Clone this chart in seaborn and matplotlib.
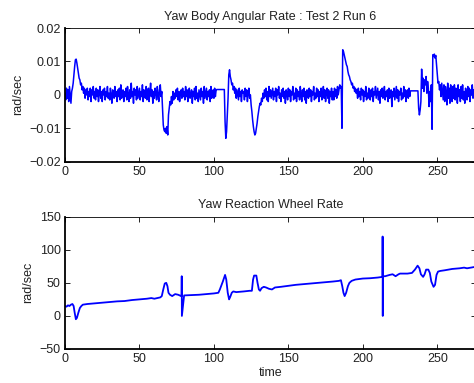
import numpy as np
import matplotlib
matplotlib.use('Agg')
import matplotlib.pyplot as plt
import seaborn as sns

# body rate samples, units of 1e-4 rad/sec, one every 0.5 s from t=0
dt_top = 0.5
body_rate = [
    5, -15, 20, -10, 15, -20, 25, 0, -25, 10, 20, 35, 60, 85, 105, 107, 95, 80, 65, 50,
    45, 30, 35, 15, 25, 5, 20, -10, 15, 0, 20, -15, 10, -5, 20, -20, 15, 0, 25, -10,
    10, -15, 20, -5, 15, -20, 5, 25, -10, 10, -20, 15, 0, 20, -15, 10, -5, 25, -10, 5,
    -15, 20, 0, -25, 15, 5, -10, 25, -5, 10, -20, 15, -5, 20, -15, 30, -10, 5, 15, -20,
    10, -5, 20, -15, 25, 0, -20, 15, -10, 35, -5, 10, -25, 20, 0, 15, -15, 25, -10, 5,
    20, -15, 10, -5, 30, -20, 15, 0, -10, 25, -15, 5, 20, -20, 10, 35, -5, 15, -25, 10,
    -10, 20, 5, -15, 25, 0, -20, 15, 30, -5, 10, -40, -90, -105, -110, -100, -115, -95, -120, -60,
    -40, -20, -30, -5, -25, 10, -15, 5, -10, 15, -5, 20, -15, 10, -20, 5, 15, -10, 20, -5,
    10, -15, 25, -5, 15, -20, 5, 20, -10, 0, 15, -25, 10, -5, 20, -15, 25, -10, 5, -20,
    15, 0, -15, 20, -5, 10, -25, 25, -10, 5, 20, -15, 10, -5, 15, -20, 25, -10, 0, 15,
    -10, 20, -5, 15, 16, 16, 16, 16, 16, 16, 16, 16, 16, 16, 16, -80, -130, -110, -60, -10,
    60, 75, 55, 45, 30, 35, 15, 25, 5, 20, -10, 15, 0, -15, 20, -5, 10, -20, 15, 5,
    10, -15, 20, -5, 15, -20, 5, 20, -10, 0, -30, -50, -75, -95, -110, -120, -115, -100, -85, -65,
    -50, -35, -25, -30, -10, -20, 5, -10, 15, -5, 20, -15, 10, -20, 25, -5, 15, -10, 5, 20,
    -15, 10, -5, 20, -20, 15, 0, 25, -10, 5, -20, 15, -5, 20, -10, 10, -25, 15, 5, -15,
    20, -5, 15, -20, 10, 0, 25, -15, 5, -10, 20, -20, 15, -5, 10, -15, 25, 0, -20, 15,
    -5, 20, -15, 10, -25, 15, 5, -10, 20, -5, 15, -20, 10, 0, 25, -15, 5, -10, 20, -5,
    15, -20, 10, -5, 20, -15, 0, 25, -10, 15, -20, 5, 20, -10, 15, -25, 10, -5, 20, -15,
    10, -15, 20, -5, 15, -10, 25, 0, 15, 30, 20, 25, -100, 135, 130, 120, 110, 100, 90, 85,
    70, 60, 55, 45, 40, 30, 35, 20, 25, 10, 20, 5, 15, -10, 20, -5, 10, -15, 20, 0,
    15, -20, 10, -5, 25, -15, 5, -10, 20, 0, -15, 15, -5, 20, -20, 10, 0, 25, -10, 5,
    20, -15, 10, -25, 15, -5, 20, -10, 5, 25, -15, 10, -5, 15, -20, 20, -10, 5, 15, -35,
    10, -5, 20, -15, 5, 25, -10, 15, -20, 10, 0, 20, -15, 5, -10, 25, -5, 15, -20, 10,
    15, -10, 20, -5, 12, 12, 12, 12, 12, 12, 12, 12, 12, 12, 12, -40, -60, -45, -20, 77,
    20, 50, 10, 45, 30, 55, 5, 40, 20, -35, 10, -20, 30, -103, 120, 115, 122, 110, 118, 90,
    60, 35, 40, 15, 30, -5, 35, 10, -15, 30, -20, 25, 5, -30, 35, -10, 20, -25, 30, 0,
    -20, 25, -10, 30, -15, 20, 5, -25, 30, -5, 15, -20, 25, -10, 30, -15, 10, -25, 20, 5,
    -15, 25, -5, 20, -20, 15, 0, 30, -10, 15, -5, 20,
]

# reaction wheel rate (rad/sec) read at turning points
wheel_time = [0, 1, 2, 3, 4, 5, 5.8, 6.5, 7.3, 8, 9, 10, 11, 12, 15, 20, 25, 30, 35, 40,
              45, 50, 55, 58, 60, 62, 64, 65, 66, 67, 68, 68.8, 69.5, 70.5, 72, 74, 76, 78,
              78.3, 78.4, 78.5, 80, 85, 90, 95, 100, 103, 104, 106, 107.5, 108.3, 109.3,
              110.2, 111, 112, 113, 115, 120, 124, 125.5, 126.3, 127, 128.5, 129.3, 130.2,
              131, 132, 133.5, 135, 137, 139, 141, 145, 150, 155, 160, 165, 170, 175, 180,
              184, 185.3, 186.2, 187, 187.8, 188.8, 190, 191, 192.5, 195, 200, 205, 210,
              213.2, 213.3, 213.4, 213.5, 215, 218, 220, 222, 224, 225, 230, 233, 235, 236.8,
              238, 239, 240.5, 241.5, 242.5, 244, 245, 246, 247.5, 248.5, 249.5, 250.5, 252,
              255, 260, 265, 268, 270, 275, 276]
wheel_rate = [15, 14, 16, 15, 17, 18, 15, 5, -5, -3, 5, 12, 15, 17, 18, 19, 20, 21, 22, 22.5,
              24, 25, 26, 27, 26, 27, 28, 30, 40, 49, 50, 45, 35, 32, 30, 33, 32, 30,
              30, 60, 0, 31, 31.5, 32, 33, 34, 35, 40, 52, 62, 55, 35,
              25, 29, 35, 37, 36, 37, 38, 38, 55, 61, 61, 50, 40,
              38, 42, 44, 43, 41, 40, 43, 44, 45.5, 47, 48, 49, 50, 51, 52,
              53, 54, 45, 35, 30, 35, 45, 50, 53, 55, 56.5, 57, 58,
              59, 120, 0, 60, 60, 62, 63, 60, 63, 64, 64, 65, 70, 76,
              72, 63, 59, 63, 70, 70, 65, 52, 44, 47, 62, 67, 68,
              69, 71, 72, 73, 72, 74, 74]

t_top = np.arange(0, len(body_rate)) * dt_top

sns.set_theme(style='ticks')
plt.rcParams['font.family'] = ['Liberation Sans', 'DejaVu Sans']
plt.rcParams['font.size'] = 9
plt.rcParams['xtick.direction'] = 'in'
plt.rcParams['ytick.direction'] = 'in'

fig = plt.figure(figsize=(4.74, 3.83), dpi=100)
ax1 = fig.add_axes([0.1371, 0.5778, 0.8671, 0.3490])
ax2 = fig.add_axes([0.1371, 0.0888, 0.8671, 0.3454])

blue = '#0000ff'
sns.lineplot(x=t_top, y=np.array(body_rate) * 1e-4, ax=ax1, color=blue, lw=1.1,
             estimator=None, sort=False)
sns.lineplot(x=wheel_time, y=wheel_rate, ax=ax2, color=blue, lw=1.3,
             estimator=None, sort=False)

def fmt(v):
    return ('%g' % v).replace('-', '\u2212')

for ax, lim, yt in [(ax1, (-0.02, 0.02), [-0.02, -0.01, 0, 0.01, 0.02]),
                    (ax2, (-50, 150), [-50, 0, 50, 100, 150])]:
    ax.set_xlim(0, 276)
    ax.set_ylim(*lim)
    ax.set_xticks([0, 50, 100, 150, 200, 250])
    ax.set_yticks(yt, [fmt(v) for v in yt])
    ax.tick_params(top=True, right=True, length=3.5, width=0.6, labelsize=9,
                   color='black', labelcolor='#222222', pad=3)
    for s in ax.spines.values():
        s.set_color('black')
        s.set_linewidth(0.6)
    ax.spines['left'].set_linewidth(1.3)
    ax.spines['bottom'].set_linewidth(1.3)
    ax.set_ylabel('rad/sec', fontsize=9, color='#222222')

ax1.set_title('Yaw Body Angular Rate : Test 2 Run 6', fontsize=9, color='#222222', pad=6)
ax2.set_title('Yaw Reaction Wheel Rate', fontsize=9, color='#222222', pad=6)
ax2.set_xlabel('time', fontsize=9, color='#222222', labelpad=1)

fig.savefig('out.png', dpi=100)
